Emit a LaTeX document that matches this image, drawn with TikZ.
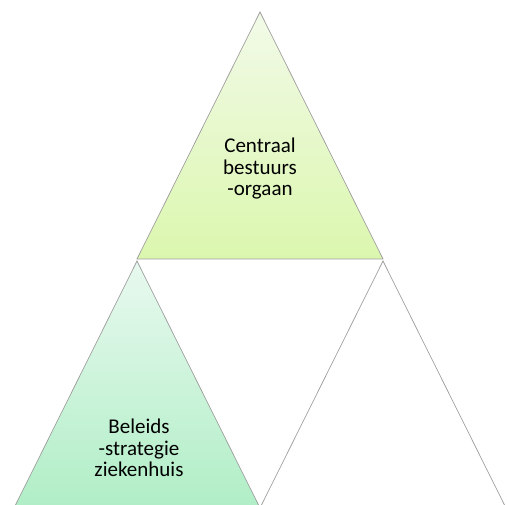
\documentclass[tikz,border=0pt]{standalone}
\usepackage{fontspec}
\setmainfont{Carlito}
\begin{document}
\begin{tikzpicture}[x=1pt,y=-1pt,
  edge/.style={draw=black!38, line width=0.7pt, line join=miter},
  label/.style={align=center, font=\fontsize{21}{21.5}\selectfont, text=black, inner sep=0pt}]
  \useasboundingbox (0,0) rectangle (507,505);
  % top pyramid block
  \coordinate (tA) at (260,12);
  \coordinate (tL) at (137,259);
  \coordinate (tR) at (383,259);
  \shade[top color={rgb,255:red,242;green,250;blue,232}, bottom color={rgb,255:red,219;green,247;blue,174}]
    (tA) -- (tL) -- (tR) -- cycle;
  \path[edge] (tA) -- (tL) -- (tR) -- cycle;
  % lower left block
  \coordinate (lA) at (137,261);
  \coordinate (lL) at (14,508);
  \coordinate (lR) at (260,508);
  \shade[top color={rgb,255:red,232;green,249;blue,239}, bottom color={rgb,255:red,176;green,238;blue,198}]
    (lA) -- (lL) -- (lR) -- cycle;
  \path[edge] (lA) -- (lL) -- (lR) -- cycle;
  % lower right block, outline only
  \coordinate (rA) at (383,261);
  \coordinate (rL) at (260,508);
  \coordinate (rR) at (506,508);
  \path[edge] (rA) -- (rL) -- (rR) -- cycle;
  % labels
  \node[label] (top) at (260,169) {Centraal\\bestuurs\\-orgaan};
  \node[label] (left) at (139,448) {Beleids\\-strategie\\ziekenhuis};
\end{tikzpicture}
\end{document}
